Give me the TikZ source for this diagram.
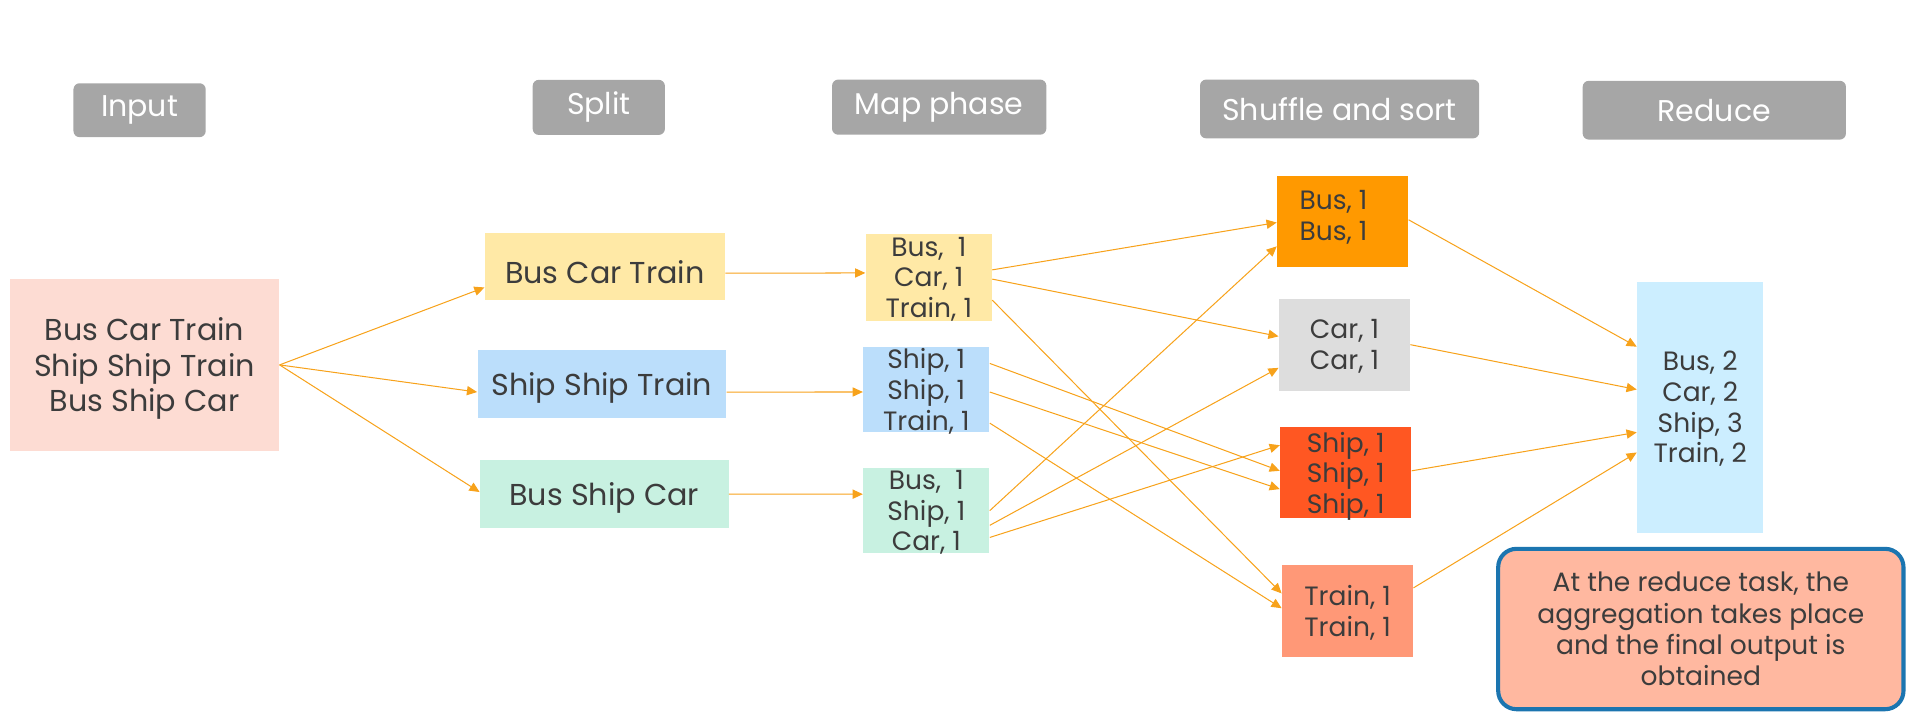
\documentclass[tikz,border=0pt]{standalone}
\usepackage{fontspec}
\setmainfont{Poppins}
\usepackage{xcolor}
\usetikzlibrary{arrows.meta,calc}
\definecolor{hdrgray}{HTML}{A6A6A6}
\definecolor{txtgray}{HTML}{3C3C3C}
\definecolor{arrorange}{HTML}{F7A21B}
\definecolor{inpink}{HTML}{FDDCD3}
\definecolor{splityellow}{HTML}{FFE9A6}
\definecolor{splitblue}{HTML}{BBDEFB}
\definecolor{splitmint}{HTML}{C8F1E1}
\definecolor{busorange}{HTML}{FF9900}
\definecolor{cargray}{HTML}{DDDDDD}
\definecolor{shipred}{HTML}{FF5722}
\definecolor{trainsalmon}{HTML}{FF9877}
\definecolor{reduceblue}{HTML}{CCEEFF}
\definecolor{notesalmon}{HTML}{FFB8A0}
\definecolor{noteblue}{HTML}{1B75B0}
\tikzset{
  phase/.style={fill=hdrgray, text=white, rounded corners=3pt, inner sep=0pt, font=\fontsize{14.7}{17}\selectfont},
  box/.style={text=txtgray, align=center, inner sep=0pt, text depth=0pt},
  bigbox/.style={box, font=\fontsize{14.8}{17.4}\selectfont},
  smallbox/.style={box, font=\fontsize{13}{15}\selectfont},
  flow/.style={draw=arrorange, line width=0.5pt, -{Triangle[length=5pt,width=4.5pt]}},
}
\begin{document}
\begin{tikzpicture}[x=0.6pt, y=-0.6pt]
			\useasboundingbox (0,0) rectangle (1568,589);
			% phase headers
			\node[phase, minimum width=64.8pt, minimum height=26.4pt] (inH) at (114,90) {Input};
			\node[phase, minimum width=64.8pt, minimum height=27pt] (splitH) at (489,87.7) {Split};
			\node[phase, minimum width=105pt, minimum height=27pt] (mapH) at (767,87.5) {Map phase};
			\node[phase, minimum width=136.8pt, minimum height=28.8pt] (shufH) at (1094,89) {Shuffle and sort};
			\node[phase, minimum width=129pt, minimum height=28.8pt] (redH) at (1400,90) {Reduce};
			% input and split
			\node[bigbox, fill=inpink, minimum width=132pt, minimum height=84pt] (input) at (118,298) {Bus Car Train\\Ship Ship Train\\Bus Ship Car};
			\node[bigbox, fill=splityellow, minimum width=117.6pt, minimum height=33pt, text height=16.4pt] (splitA) at (494,217.5) {Bus Car Train};
			\node[bigbox, fill=splitblue, minimum width=121.8pt, minimum height=33pt] (splitB) at (491.5,313.5) {Ship Ship Train};
			\node[bigbox, fill=splitmint, minimum width=121.8pt, minimum height=33pt] (splitC) at (493.5,403.5) {Bus Ship Car};
			% map
			\node[smallbox, fill=splityellow, minimum width=61.8pt, minimum height=42.6pt] (mapA) at (758.5,226.5) {Bus,\ \ 1\\Car, 1\\Train, 1};
			\node[smallbox, fill=splitblue, minimum width=61.8pt, minimum height=42pt] (mapB) at (756.5,318) {Ship, 1\\Ship, 1\\Train, 1};
			\node[smallbox, fill=splitmint, minimum width=61.8pt, minimum height=42pt] (mapC) at (756.5,417) {Bus,\ \ 1\\Ship, 1\\Car, 1};
			% shuffle and sort
			\node[smallbox, fill=busorange, minimum width=64.2pt, minimum height=44.4pt] (shufA) at (1096.5,181) {};
			\node[smallbox] (shufAtxt) at (1089,176) {Bus, 1\\Bus, 1};
			\node[smallbox, fill=cargray, minimum width=64.2pt, minimum height=45pt] (shufB) at (1098,281.5) {Car, 1\\Car, 1};
			\node[smallbox, fill=shipred, minimum width=64.2pt, minimum height=44.4pt] (shufC) at (1099,386) {Ship, 1\\Ship, 1\\Ship, 1};
			\node[smallbox, fill=trainsalmon, minimum width=64.2pt, minimum height=45pt] (shufD) at (1100.5,499) {Train, 1\\Train, 1};
			% reduce
			\node[smallbox, fill=reduceblue, minimum width=61.8pt, minimum height=123pt] (reduce) at (1388.5,332.5) {Bus, 2\\Car, 2\\Ship, 3\\Train, 2};
			\node[smallbox, font=\fontsize{13}{15.4}\selectfont, text depth=-4.5pt, fill=notesalmon, draw=noteblue, line width=2pt, rounded corners=9pt, minimum width=198.6pt, minimum height=78.6pt] (note) at (1389,513.7) {At the reduce task, the\\aggregation takes place\\and the final output is\\obtained};
			% connectors
			\draw[flow] (input.east) -- ($(splitA.north west)!.81!(splitA.south west)$);
			\draw[flow] (input.east) -- ($(splitB.north west)!.62!(splitB.south west)$);
			\draw[flow] (input.east) -- ($(splitC.north west)!.47!(splitC.south west)$);
			\draw[flow] ($(splitA.north east)!.6!(splitA.south east)$) -- ($(mapA.north west)!.45!(mapA.south west)$);
			\draw[flow] ($(splitB.north east)!.62!(splitB.south east)$) -- ($(mapB.north west)!.53!(mapB.south west)$);
			\draw[flow] ($(splitC.north east)!.5!(splitC.south east)$) -- ($(mapC.north west)!.31!(mapC.south west)$);
			\draw[flow] ($(mapA.north east)!.415!(mapA.south east)$) -- ($(shufA.north west)!.51!(shufA.south west)$);
			\draw[flow] ($(mapA.north east)!.52!(mapA.south east)$) -- ($(shufB.north west)!.41!(shufB.south west)$);
			\draw[flow] ($(mapA.north east)!.76!(mapA.south east)$) -- ($(shufD.north west)!.31!(shufD.south west)$);
			\draw[flow] ($(mapB.north east)!.2!(mapB.south east)$) -- ($(shufC.north west)!.48!(shufC.south west)$);
			\draw[flow] ($(mapB.north east)!.53!(mapB.south east)$) -- ($(shufC.north west)!.68!(shufC.south west)$);
			\draw[flow] ($(mapB.north east)!.89!(mapB.south east)$) -- ($(shufD.north west)!.47!(shufD.south west)$);
			\draw[flow] ($(mapC.north east)!.5!(mapC.south east)$) -- ($(shufA.north west)!.77!(shufA.south west)$);
			\draw[flow] ($(mapC.north east)!.67!(mapC.south east)$) -- ($(shufB.north west)!.75!(shufB.south west)$);
			\draw[flow] ($(mapC.north east)!.81!(mapC.south east)$) -- ($(shufC.north west)!.2!(shufC.south west)$);
			\draw[flow] ($(shufA.north east)!.48!(shufA.south east)$) -- ($(reduce.north west)!.26!(reduce.south west)$);
			\draw[flow] ($(shufB.north east)!.5!(shufB.south east)$) -- ($(reduce.north west)!.43!(reduce.south west)$);
			\draw[flow] ($(shufC.north east)!.48!(shufC.south east)$) -- ($(reduce.north west)!.6!(reduce.south west)$);
			\draw[flow] ($(shufD.north east)!.25!(shufD.south east)$) -- ($(reduce.north west)!.68!(reduce.south west)$);
		\end{tikzpicture}
\end{document}
